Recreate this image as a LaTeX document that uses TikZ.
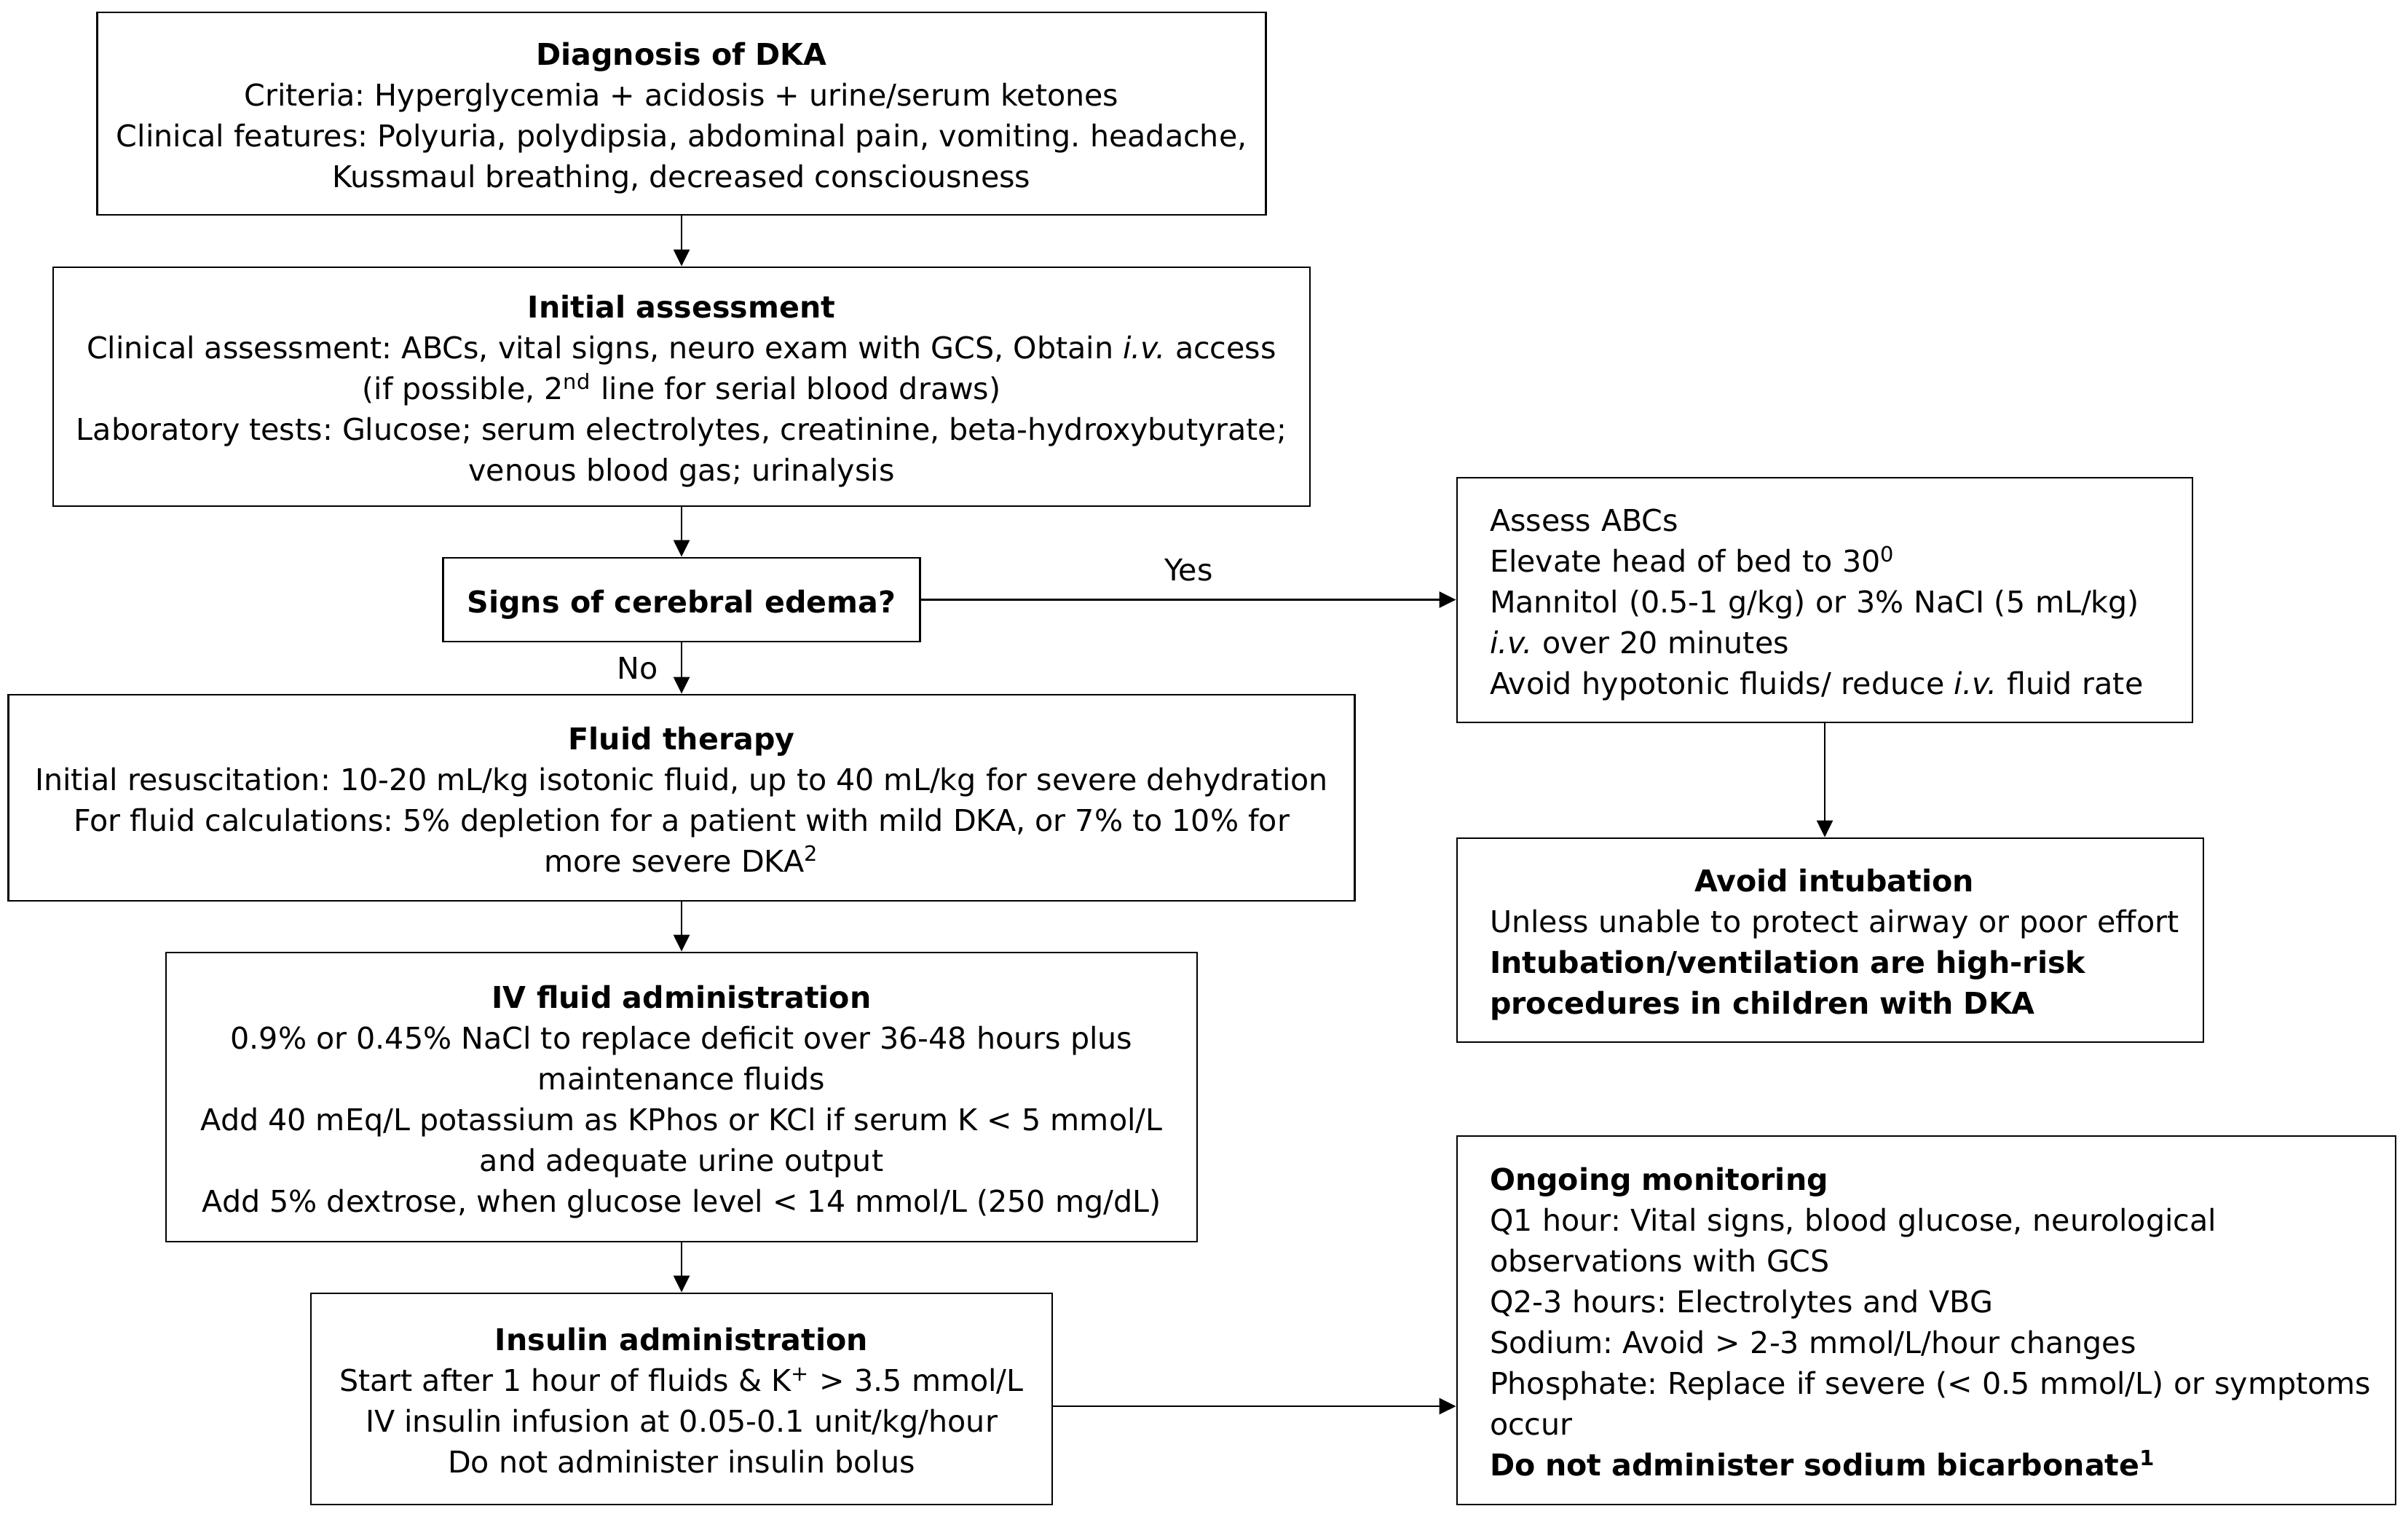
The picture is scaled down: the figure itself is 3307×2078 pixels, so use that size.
\documentclass[tikz,border=0pt]{standalone}
\usepackage{fontspec}
\setmainfont{DejaVu Sans}
\usetikzlibrary{arrows.meta,calc}
\newcommand\ctab[1]{\begin{tabular}{@{}c@{}}\noalign{\vskip3.2pt}#1\end{tabular}}
\newcommand\ltab[1]{\begin{tabular}{@{}l@{}}\noalign{\vskip3.2pt}#1\end{tabular}}
\frenchspacing
\begin{document}
\begin{tikzpicture}[x=0.25pt,y=-0.25pt,
  box/.style={draw=black, line width=0.72pt, rectangle, inner sep=0pt, align=center,
    font=\fontsize{10.3}{14}\selectfont\frenchspacing},
  lbox/.style={box, align=left, inner xsep=11.25pt},
  arr/.style={line width=0.62pt, -{Triangle[length=5.75pt,width=5.5pt]}},
  harr/.style={arr, line width=0.72pt},
  lab/.style={inner sep=0pt, font=\fontsize{10.3}{14}\selectfont}]
\useasboundingbox (0,0) rectangle (3307,2078);
\fill[white] (0,0) rectangle (3307,2078);

\node[box, minimum width=401.25pt, minimum height=69.5pt] (b1) at (936,156)
  {\ctab{\textbf{Diagnosis of DKA}\\
   Criteria: Hyperglycemia + acidosis + urine/serum ketones\\
   Clinical features: Polyuria, polydipsia, abdominal pain, vomiting. headache,\\
   Kussmaul breathing, decreased consciousness}};

\node[box, minimum width=431.5pt, minimum height=82pt] (b2) at (936,531)
  {\ctab{\textbf{Initial assessment}\\
   Clinical assessment: ABCs, vital signs, neuro exam with GCS, Obtain \textit{i.v.} access\\
   (if possible, 2\textsuperscript{nd} line for serial blood draws)\\
   Laboratory tests: Glucose; serum electrolytes, creatinine, beta-hydroxybutyrate;\\
   venous blood gas; urinalysis}};

\node[box, minimum width=163.75pt, minimum height=28.75pt] (b3) at (936,823.5)
  {\ctab{\textbf{Signs of cerebral edema?}}};

\node[box, minimum width=462.25pt, minimum height=70.75pt] (b4) at (936,1095.5)
  {\ctab{\textbf{Fluid therapy}\\
   Initial resuscitation: 10-20 mL/kg isotonic fluid, up to 40 mL/kg for severe dehydration\\
   For fluid calculations: 5\% depletion for a patient with mild DKA, or 7\% to 10\% for\\
   more severe DKA\textsuperscript{2}}};

\node[box, minimum width=354pt, minimum height=99.25pt] (b5) at (936,1506.5)
  {\ctab{\textbf{IV fluid administration}\\
   0.9\% or 0.45\% NaCl to replace deficit over 36-48 hours plus\\
   maintenance fluids\\
   Add 40 mEq/L potassium as KPhos or KCl if serum K < 5 mmol/L\\
   and adequate urine output\\
   Add 5\% dextrose, when glucose level < 14 mmol/L (250 mg/dL)}};

\node[box, minimum width=254.5pt, minimum height=72.5pt] (b6) at (936,1921)
  {\ctab{\textbf{Insulin administration}\\
   Start after 1 hour of fluids \& K\textsuperscript{+} > 3.5 mmol/L\\
   IV insulin infusion at 0.05-0.1 unit/kg/hour\\
   Do not administer insulin bolus}};

\node[lbox, text width=230pt, minimum height=84pt] (b7) at (2506,824)
  {\ltab{Assess ABCs\\
   Elevate head of bed to 30\textsuperscript{0}\\
   Mannitol (0.5-1 g/kg) or 3\% NaCI (5 mL/kg)\\
   \textit{i.v.} over 20 minutes\\
   Avoid hypotonic fluids/ reduce \textit{i.v.} fluid rate}};

\node[lbox, text width=233.75pt, minimum height=70pt] (b8) at (2513.5,1291)
  {\ltab{\multicolumn{1}{c}{\textbf{Avoid intubation}}\\
   Unless unable to protect airway or poor effort\\
   \textbf{Intubation/ventilation are high-risk}\\
   \textbf{procedures in children with DKA}}};

\node[lbox, text width=299.75pt, minimum height=126.5pt] (b9) at (2645.5,1813)
  {\ltab{\textbf{Ongoing monitoring}\\
   Q1 hour: Vital signs, blood glucose, neurological\\
   observations with GCS\\
   Q2-3 hours: Electrolytes and VBG\\
   Sodium: Avoid > 2-3 mmol/L/hour changes\\
   Phosphate: Replace if severe (< 0.5 mmol/L) or symptoms\\
   occur\\
   \textbf{Do not administer sodium bicarbonate\textsuperscript{1}}}};

\draw[arr] (b1) -- (b2);
\draw[arr] (b2) -- (b3);
\draw[arr] (b3) -- node[lab, midway, left=7.75pt] (no) {No} (b4);
\draw[arr] (b4) -- (b5);
\draw[arr] (b5) -- (b6);
\draw[harr] (b3.east) -- node[lab, midway, above=6pt] (yes) {Yes} (b3.east -| b7.west);
\draw[arr] (b7.south) -- (b7.south |- b8.north);
\draw[harr] ([yshift=-2.5pt]b6.east) -- ([yshift=-2.5pt]b6.east -| b9.west);
\end{tikzpicture}
\end{document}
